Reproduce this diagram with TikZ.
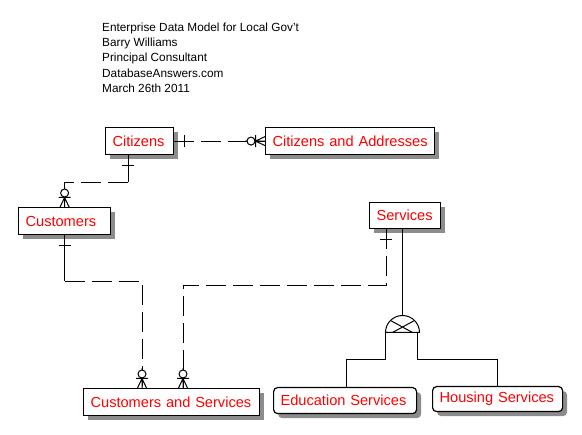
\documentclass[tikz,border=0pt]{standalone}
\usepackage{fontspec}
\setmainfont{Liberation Sans}
\usetikzlibrary{calc,shadows}
\tikzset{
  ent/.style={draw, line width=1.2pt, fill=white, text=red,
    font=\fontsize{14.6}{16}\selectfont, align=left, inner xsep=7pt, inner ysep=0pt,
    anchor=north west,
    drop shadow={shadow xshift=4.5pt, shadow yshift=-4.5pt, fill=black!45, opacity=1}},
  rnd/.style={rounded corners=4pt},
  rel/.style={line width=1pt, dash pattern=on 20pt off 7pt},
  sym/.style={line width=1pt},
  zmtop/.pic={\draw[sym] (0,0)--(0,-20) (-4.5,0)--(0,-9.5)--(4.5,0) (-6,-9.5)--(6,-9.5);
              \draw[sym,fill=white] (0,-14) circle[radius=4pt];},
  zmleft/.pic={\draw[sym] (0,0)--(-20,0) (0,-4.5)--(-9.5,0)--(0,4.5) (-9.5,-6)--(-9.5,6);
               \draw[sym,fill=white] (-14,0) circle[radius=4pt];},
  onedown/.pic={\draw[sym] (0,0)--(0,14) (-6,10)--(6,10);},
  oneright/.pic={\draw[sym] (0,0)--(14,0) (10,-6)--(10,6);}
}
\begin{document}
\begin{tikzpicture}[x=1pt,y=-1pt]
\useasboundingbox[fill=white] (0,0) rectangle (582,435);

\node[anchor=north west, align=left, inner sep=0pt, font=\fontsize{11.8}{15.2}\selectfont] (title) at (102,22.8)
  {Enterprise Data Model for Local Gov\symbol{39}t\\Barry Williams\\Principal Consultant\\DatabaseAnswers.com\\March 26th 2011};

\node[ent, text width=54pt, minimum height=27pt] (cit) at (105,127) {\mbox{Citizens}};
\node[ent, text width=155pt, minimum height=27pt] (cad) at (265,127) {\mbox{Citizens and Addresses}};
\node[ent, text width=78pt, minimum height=27pt] (cus) at (18,207) {\mbox{Customers}};
\node[ent, text width=57pt, minimum height=26pt] (svc) at (369,202) {\mbox{Services}};
\node[ent, text width=162pt, minimum height=27pt] (cas) at (83,388) {\mbox{Customers and Services}};
\node[ent, rnd, text width=129pt, minimum height=26pt] (edu) at (273,387) {\mbox{Education Services}};
\node[ent, rnd, text width=116pt, minimum height=25pt] (hou) at (432,386) {\mbox{Housing Services}};

% relationships
\draw[rel] (cit.east) -- (cad.west);
\draw[sym] ($(cit.south west)+(23,0)$) -- ++(0,27) coordinate (c1);
\draw[rel] (c1) -| (cus.north);
\draw[sym] (cus.south) -- ++(0,46) coordinate (c2);
\draw[rel] (c2) -| ($(cas.north west)+(59,0)$);
\draw[rel] ($(svc.south west)+(17,0)$) -- ++(0,56) -| ($(cas.north west)+(100,0)$);

\pic at (cit.east) {oneright};
\pic at (cad.west) {zmleft};
\pic at ($(cit.south west)+(23,0)$) {onedown};
\pic at (cus.north) {zmtop};
\pic at (cus.south) {onedown};
\pic at ($(cas.north west)+(59,0)$) {zmtop};
\pic at ($(svc.south west)+(17,0)$) {onedown};
\pic at ($(cas.north west)+(100,0)$) {zmtop};

% subtype
\coordinate (sub) at (402.5,332.5);
\draw[sym] ($(svc.south west)+(33.5,0)$) -- ($(sub)+(0,-17)$);
\draw[sym] ($(sub)+(-17,0)$) arc[start angle=180,end angle=0,radius=17pt] -- cycle;
\draw[sym] ($(sub)+(-12,-12)$) -- ($(sub)+(10,0)$) ($(sub)+(12,-12)$) -- ($(sub)+(-10,0)$);
\draw[sym] ($(sub)+(-17,0)$) -- ++(0,27.5) -| ($(edu.north west)+(73,0)$);
\draw[sym] ($(sub)+(15,0)$) -- ++(0,27) -| ($(hou.north west)+(65,0)$);
\end{tikzpicture}
\end{document}
